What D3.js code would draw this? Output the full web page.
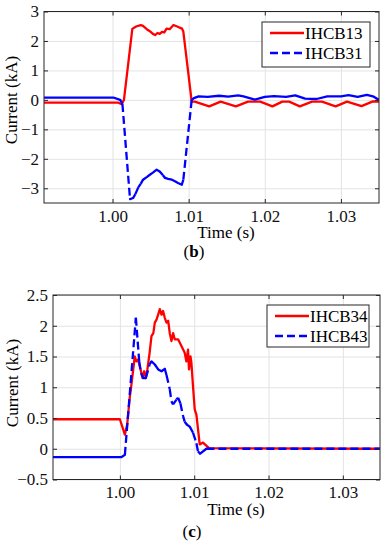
<!DOCTYPE html>
<html>
<head>
<meta charset="utf-8">
<script src="https://cdn.jsdelivr.net/npm/d3@7"></script>
<style>
  body { margin: 0; background: #fff; }
  svg { display: block; font-family: "Liberation Serif", "Times New Roman", serif; }
  .grid line { stroke: #e3e3e3; stroke-width: 1; }
  .grid path { display: none; }
  .ax path { display: none; }
  .ax line { stroke: #262626; }
</style>
</head>
<body>
<svg id="chart" width="389" height="550"></svg>
<script>
// x ticks shared by both panels
const timeTicks = [1.00, 1.01, 1.02, 1.03];

// panel (b)
const b13Time = [0.991, 1.0007, 1.0012, 1.0015, 1.0026, 1.0031, 1.0037, 1.0040, 1.0045, 1.0049, 1.0053, 1.0056, 1.0059, 1.0062, 1.0065, 1.0068, 1.0071, 1.0075, 1.0080, 1.0085, 1.0089, 1.0091, 1.0093, 1.0104, 1.0108, 1.0127, 1.0142, 1.0162, 1.0178, 1.0194, 1.0210, 1.0223, 1.0232, 1.0246, 1.0262, 1.0275, 1.0293, 1.0308, 1.0327, 1.0342, 1.035];
const b13Val = [-0.09, -0.09, -0.15, 0.0, 2.41, 2.49, 2.54, 2.51, 2.40, 2.33, 2.24, 2.20, 2.27, 2.24, 2.31, 2.29, 2.42, 2.40, 2.54, 2.49, 2.44, 2.43, 2.32, -0.06, -0.06, -0.22, -0.06, -0.22, -0.06, -0.06, -0.22, -0.06, -0.06, -0.22, -0.06, -0.06, -0.22, -0.06, -0.21, -0.05, -0.06];
const b31Time = [0.991, 1.0001, 1.0010, 1.0013, 1.0023, 1.0027, 1.0030, 1.0034, 1.0037, 1.0040, 1.0045, 1.0049, 1.0053, 1.0058, 1.0062, 1.0066, 1.0069, 1.0073, 1.0078, 1.0082, 1.0086, 1.0091, 1.0093, 1.0104, 1.0107, 1.0113, 1.0125, 1.0140, 1.0152, 1.0165, 1.0172, 1.0187, 1.0200, 1.0212, 1.0228, 1.0240, 1.0253, 1.0268, 1.0282, 1.0300, 1.0310, 1.0322, 1.0334, 1.0342, 1.035];
const b31Val = [0.08, 0.08, 0.0, -0.14, -3.37, -3.33, -3.2, -2.96, -2.85, -2.71, -2.62, -2.54, -2.47, -2.37, -2.43, -2.55, -2.65, -2.68, -2.71, -2.76, -2.82, -2.88, -2.71, 0.0, 0.06, 0.12, 0.10, 0.14, 0.11, 0.15, 0.12, 0.01, 0.10, 0.13, 0.10, 0.15, 0.04, 0.03, 0.12, 0.12, 0.16, 0.10, 0.17, 0.12, 0.0];
const bYTicks = [-3, -2, -1, 0, 1, 2, 3];

// panel (c)
const c34Time = [0.991, 1.0000, 1.00067, 1.00098, 1.00134, 1.00148, 1.0020, 1.00222, 1.00245, 1.00278, 1.00305, 1.00327, 1.00349, 1.0037, 1.0040, 1.00425, 1.0045, 1.0047, 1.00493, 1.00515, 1.00537, 1.0056, 1.00581, 1.00604, 1.00627, 1.0065, 1.00671, 1.00694, 1.00716, 1.00738, 1.00783, 1.00828, 1.00872, 1.00895, 1.00917, 1.0093, 1.0095, 1.00962, 1.00985, 1.01007, 1.0103, 1.01074, 1.01118, 1.012, 1.035];
const c34Val = [0.48, 0.48, 0.23, 0.39, 0.85, 0.97, 1.50, 1.42, 1.45, 1.29, 1.15, 1.26, 1.15, 1.29, 1.56, 1.83, 1.88, 2.05, 2.10, 2.18, 2.27, 2.18, 2.24, 2.13, 2.05, 2.08, 1.88, 1.75, 1.88, 1.78, 1.78, 1.67, 1.56, 1.42, 1.61, 1.29, 1.50, 1.40, 1.00, 0.64, 0.55, 0.07, 0.10, 0.01, 0.0];
const c43Time = [0.991, 1.00023, 1.00067, 1.00215, 1.0026, 1.00285, 1.00313, 1.00349, 1.0040, 1.00425, 1.0047, 1.00515, 1.0056, 1.00604, 1.00627, 1.00671, 1.00694, 1.00716, 1.00761, 1.00783, 1.00814, 1.0085, 1.00872, 1.00903, 1.0094, 1.00984, 1.0103, 1.0105, 1.0108, 1.01164, 1.035];
const c43Val = [-0.135, -0.135, -0.10, 2.13, 1.42, 1.23, 1.15, 1.15, 1.37, 1.42, 1.37, 1.29, 1.26, 1.30, 1.20, 0.97, 0.77, 0.72, 0.80, 0.83, 0.74, 0.53, 0.44, 0.39, 0.36, 0.26, 0.09, -0.04, -0.08, 0.0, 0.0];
const cYTicks = [-0.5, 0, 0.5, 1, 1.5, 2, 2.5];

const svg = d3.select("#chart");
const zip = (t, v) => t.map((d, i) => ({ t: d, v: v[i] }));
const FS = 17;
const FONT = "Liberation Serif, Times New Roman, serif";

function drawPanel(cfg) {
    const x = d3.scaleLinear().domain([0.991, 1.035]).range([cfg.left, cfg.right]);
    const y = d3.scaleLinear().domain(cfg.yDomain).range([cfg.bottom, cfg.top]);
    const w = cfg.right - cfg.left, h = cfg.bottom - cfg.top;
    const g = svg.append("g");

    // grid
    g.append("g").attr("class", "grid")
        .attr("transform", "translate(0," + cfg.bottom + ")")
        .call(d3.axisBottom(x).tickValues(timeTicks).tickSize(-h).tickFormat(""));
    g.append("g").attr("class", "grid")
        .attr("transform", "translate(" + cfg.left + ",0)")
        .call(d3.axisLeft(y).tickValues(cfg.yTicks).tickSize(-w).tickFormat(""));

    // clip for data
    const clipId = "clip" + cfg.id;
    svg.append("clipPath").attr("id", clipId).append("rect")
        .attr("x", cfg.left).attr("y", cfg.top).attr("width", w).attr("height", h);
    const plot = g.append("g").attr("clip-path", "url(#" + clipId + ")");

    const line = d3.line().x(d => x(d.t)).y(d => y(d.v));

    // first series: red solid
    plot.append("path").datum(zip(cfg.s1.t, cfg.s1.v))
        .attr("d", line).attr("fill", "none")
        .attr("stroke", "#ff0000").attr("stroke-width", 2.3)
        .attr("stroke-linejoin", "round");

    // second series: blue dashed (dash pattern restarts each segment, so short ones look solid)
    const pts = zip(cfg.s2.t, cfg.s2.v);
    let run = [pts[0]];
    const flush = () => {
        if (run.length > 1) {
            plot.append("path").datum(run).attr("d", line).attr("fill", "none")
                .attr("stroke", "#0000ff").attr("stroke-width", 2.3)
                .attr("stroke-linejoin", "round").attr("stroke-linecap", "round");
        }
    };
    for (let i = 1; i < pts.length; i++) {
        const a = pts[i - 1], b = pts[i];
        const dx = Math.abs(x(b.t) - x(a.t)), dy = Math.abs(y(b.v) - y(a.v));
        const dashed = dy > dx || dx > 100;
        if (dashed) {
            flush();
            plot.append("path").datum([a, b]).attr("d", line).attr("fill", "none")
                .attr("stroke", "#0000ff").attr("stroke-width", 2.3)
                .attr("stroke-dasharray", "8,4");
            run = [b];
        } else {
            run.push(b);
        }
    }
    flush();

    // axes with inward ticks on all sides
    const xAxis = g.append("g").attr("class", "ax")
        .attr("transform", "translate(0," + cfg.bottom + ")")
        .call(d3.axisBottom(x).tickValues(timeTicks).tickSizeInner(-4).tickSizeOuter(0)
            .tickPadding(6.5).tickFormat(d3.format(".2f")));
    g.append("g").attr("class", "ax")
        .attr("transform", "translate(0," + cfg.top + ")")
        .call(d3.axisTop(x).tickValues(timeTicks).tickSizeInner(-4).tickSizeOuter(0).tickFormat(""));
    const yAxis = g.append("g").attr("class", "ax")
        .attr("transform", "translate(" + cfg.left + ",0)")
        .call(d3.axisLeft(y).tickValues(cfg.yTicks).tickSizeInner(-4).tickSizeOuter(0)
            .tickPadding(5).tickFormat(d3.format("~g")));
    g.append("g").attr("class", "ax")
        .attr("transform", "translate(" + cfg.right + ",0)")
        .call(d3.axisRight(y).tickValues(cfg.yTicks).tickSizeInner(-4).tickSizeOuter(0).tickFormat(""));
    [xAxis, yAxis].forEach(a => {
        a.attr("font-family", FONT).attr("font-size", FS);
        a.selectAll("text").attr("fill", "#111");
    });

    g.append("rect").attr("x", cfg.left).attr("y", cfg.top).attr("width", w).attr("height", h)
        .attr("fill", "none").attr("stroke", "#262626").attr("stroke-width", 1);

    // labels
    g.append("text").attr("x", cfg.xLabelX).attr("y", cfg.xLabelY)
        .attr("text-anchor", "middle").attr("font-size", FS).text("Time (s)");
    g.append("text")
        .attr("transform", "translate(" + cfg.yLabelX + "," + cfg.yLabelY + ") rotate(-90)")
        .attr("text-anchor", "middle").attr("font-size", FS).text("Current (kA)");
    const cap = g.append("text").attr("x", cfg.capX).attr("y", cfg.capY)
        .attr("text-anchor", "middle").attr("font-size", FS);
    cap.append("tspan").text("(");
    cap.append("tspan").attr("font-weight", "bold").text(cfg.caption);
    cap.append("tspan").text(")");

    // legend
    const L = cfg.legend;
    g.append("rect").attr("x", L.x).attr("y", L.y).attr("width", L.w).attr("height", L.h)
        .attr("fill", "#fff").attr("stroke", "#262626").attr("stroke-width", 1);
    [cfg.s1, cfg.s2].forEach((s, i) => {
        const ly = L.y + 11 + i * 20;
        const ln = g.append("line").attr("x1", L.x + 8).attr("x2", L.x + 42)
            .attr("y1", ly).attr("y2", ly)
            .attr("stroke", i === 0 ? "#ff0000" : "#0000ff").attr("stroke-width", 2.3);
        if (i === 1) ln.attr("stroke-dasharray", "8,4");
        g.append("text").attr("x", L.x + 43).attr("y", ly + 5.5)
            .attr("font-size", FS).text(s.name);
    });
}

drawPanel({
    id: "b", left: 44, right: 379, top: 11.5, bottom: 203, yDomain: [-3.5, 3], yTicks: bYTicks,
    s1: { name: "IHCB13", t: b13Time, v: b13Val },
    s2: { name: "IHCB31", t: b31Time, v: b31Val },
    xLabelX: 226, xLabelY: 237.5, yLabelX: 16.5, yLabelY: 100, capX: 194, capY: 257, caption: "b",
    legend: { x: 262, y: 22, w: 108, h: 45 }
});

drawPanel({
    id: "c", left: 53, right: 380, top: 295, bottom: 479.5, yDomain: [-0.5, 2.5], yTicks: cYTicks,
    s1: { name: "IHCB34", t: c34Time, v: c34Val },
    s2: { name: "IHCB43", t: c43Time, v: c43Val },
    xLabelX: 236, xLabelY: 515, yLabelX: 18, yLabelY: 383, capX: 192, capY: 537, caption: "c",
    legend: { x: 267, y: 305, w: 102, h: 42 }
});
</script>
</body>
</html>
